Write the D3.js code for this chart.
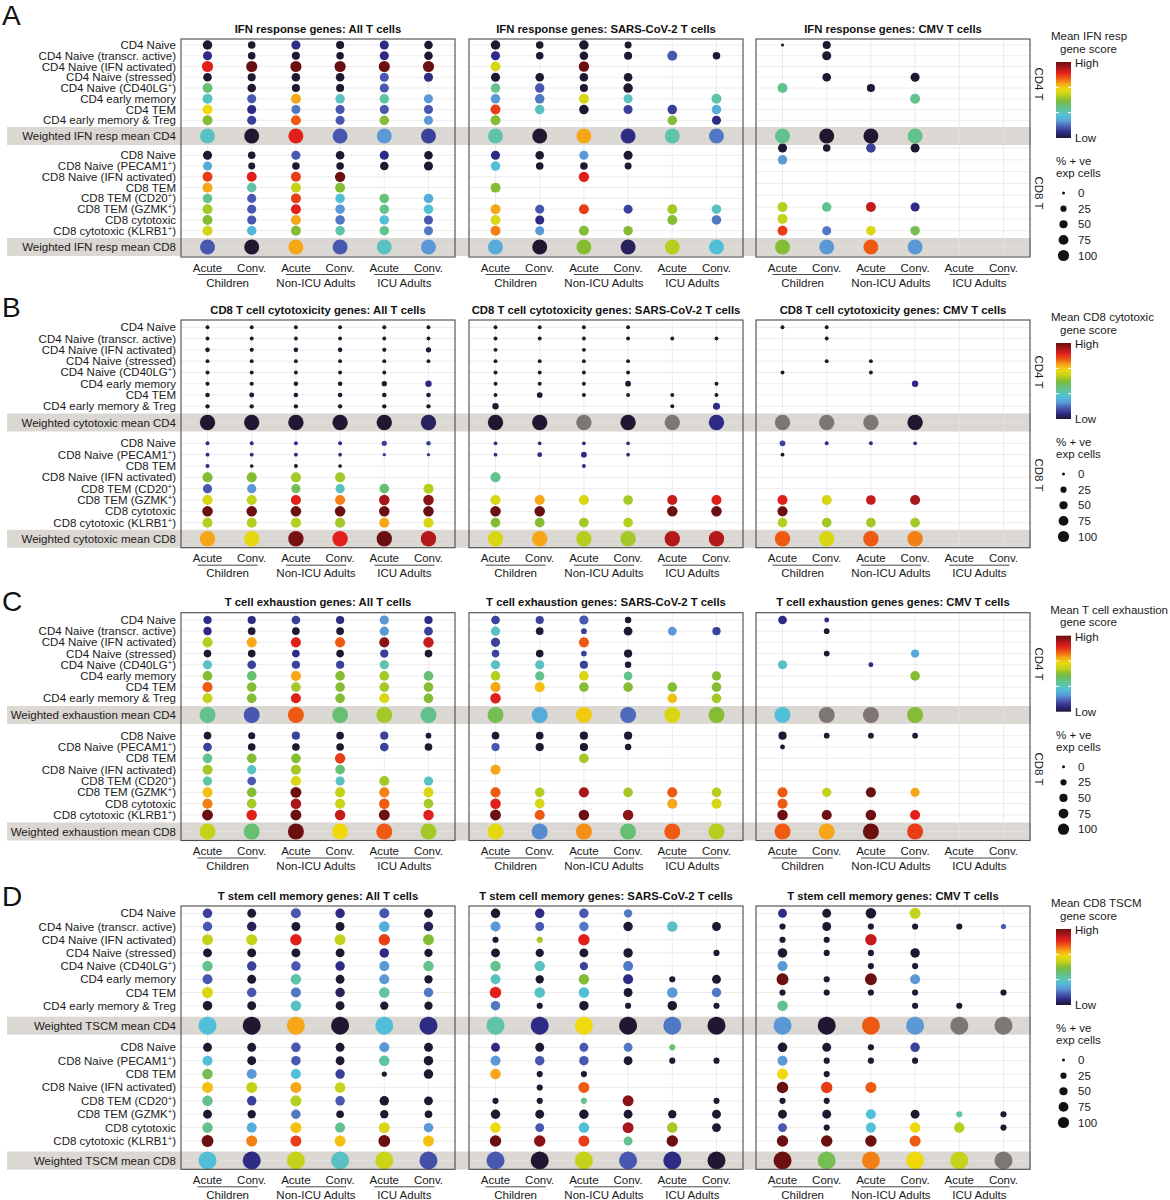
<!DOCTYPE html>
<html><head><meta charset="utf-8">
<script src="https://cdn.jsdelivr.net/npm/d3@7"></script>
<style>
body{margin:0;background:#fff;}
svg{display:block;font-family:"Liberation Sans",Arial,Helvetica,sans-serif;}
</style>
</head><body>
<svg id="chart" width="1170" height="1200"></svg>
<script>
const _ = null;
const NA = "NA";

// ---------- categories ----------
const groups = ["Children", "Non-ICU Adults", "ICU Adults"];
const phases = ["Acute", "Conv."];
const columns = groups.flatMap(g => phases.map(p => g + "|" + p));
const cd4Rows = ["CD4 Naive", "CD4 Naive (transcr. active)", "CD4 Naive (IFN activated)", "CD4 Naive (stressed)",
  "CD4 Naive (CD40LG+)", "CD4 early memory", "CD4 TEM", "CD4 early memory & Treg"];
const cd8RowsIFN = ["CD8 Naive", "CD8 Naive (PECAM1+)", "CD8 Naive (IFN activated)", "CD8 TEM",
  "CD8 TEM (CD20+)", "CD8 TEM (GZMK+)", "CD8 cytotoxic", "CD8 cytotoxic (KLRB1+)"];
const cd8RowsOther = ["CD8 Naive", "CD8 Naive (PECAM1+)", "CD8 TEM", "CD8 Naive (IFN activated)",
  "CD8 TEM (CD20+)", "CD8 TEM (GZMK+)", "CD8 cytotoxic", "CD8 cytotoxic (KLRB1+)"];
const sizeBreaks = [0, 25, 50, 75, 100];
const scoreLevels = [0,1,2,3,4,5,6,7,8,9,10,11,12,13,14]; // Low ... High
const scorePalette = ["#201830","#2d2b84","#4857b0","#5a98d6","#52bfd9","#5fc3a8","#67bf74","#84bd34",
  "#c3d31a","#efd90c","#f6a616","#ef5a13","#e2201b","#a8171a","#6c0f10"];
const naColor = "#7e7674";

// ---------- values: [score level (0 low..14 high), % +ve exp cells] ----------
// Panel A: IFN response genes
const ifnAll = [
 [[0,50],[0,30],[1,45],[0,35],[1,45],[0,40]],
 [[1,45],[0,30],[0,35],[0,30],[1,45],[0,40]],
 [[12,70],[14,70],[14,70],[14,70],[14,70],[14,70]],
 [[0,40],[0,35],[0,40],[0,40],[2,45],[1,45]],
 [[6,55],[0,40],[0,35],[0,35],[2,45],_],
 [[4.5,55],[2,45],[10,55],[4.5,50],[5,50],[3,45]],
 [[9,55],[1,45],[2.5,45],[2,45],[2,45],[2,45]],
 [[7,55],[1.5,45],[11,55],[2,45],[7,50],[3,45]],
 [[0,45],[0,30],[2,45],[0,40],[1,45],[0,40]],
 [[3.5,45],[0,25],[0,30],[0,30],[0,40],[0,45]],
 [[11.5,55],[12,55],[11.5,55],[14,60],_,_],
 [[10,55],[5,50],[8,55],[7,55],_,_],
 [[5.5,50],[2,45],[11.5,55],[4,50],[6,50],[3.5,50]],
 [[7.5,55],[2,45],[12,55],[3,50],[5.5,50],[4,50]],
 [[7,55],[2,45],[10,55],[2.5,50],[4,50],[2,45]],
 [[8.3,55],[3.8,50],[7,55],[5,50],[5.5,50],[2.5,45]]
];
const ifnAllMean = [[4.5,0,12,2,3,1.5],[2,0,10,2,4.5,3]];
const ifnSars = [
 [[0,50],[0,30],[0,50],[0,25],_,_],
 [[1,45],[0,30],[0,40],[0,35],[2,55],[0,30]],
 [[8.5,55],_,[14,60],_,_,_],
 [[0,45],[0,40],[0,40],[0,40],_,_],
 [[5.5,50],[2,50],[0,35],[0,50],_,_],
 [[3,50],[2.5,50],[8.5,55],[4.5,45],_,[5,55]],
 [[11.5,55],[4.5,50],[0,50],[1.5,45],[1.5,50],[3.5,50]],
 [[7,55],_,_,_,[7,50],[1,45]],
 [[1,45],[0,40],[3,45],[0,45],_,_],
 [[4,50],[0,30],[0,30],[0,25],_,_],
 [_,_,[12,60],_,_,_],
 [[7,55],_,_,_,_,_],
 [_,_,_,_,_,_],
 [[10,55],[2,45],[11.5,55],[1.5,45],[7.5,55],[4.5,50]],
 [[8.5,55],[1,45],_,_,[7,55],[2.5,50]],
 [[10.5,55],[3,45],[7,55],[7,50],_,_]
];
const ifnSarsMean = [[5,0,10,1,5,2.5],[3.5,0,7,0.5,7.8,4]];
const ifnCmv = [
 [[0,2],[0,35],_,_,_,_],
 [_,[0,45],_,_,_,_],
 [_,_,_,_,_,_],
 [_,[0,40],_,[0,45],_,_],
 [[5.5,55],_,[0,35],_,_,_],
 [_,_,_,[5.5,55],_,_],
 [_,_,_,_,_,_],
 [_,_,_,_,_,_],
 [[0,45],[0,30],[1.5,50],[0,45],_,_],
 [[3,50],_,_,_,_,_],
 [_,_,_,_,_,_],
 [_,_,_,_,_,_],
 [_,_,_,_,_,_],
 [[7.8,55],[5.5,50],[12.5,55],[1,45],_,_],
 [[8,55],_,_,_,_,_],
 [[11.5,55],[2.5,45],[8.5,50],[6.5,50],_,_]
];
const ifnCmvMean = [[5.5,0,0,5.5,_,_],[7,3,11,3,_,_]];

// Panel B: CD8 T cell cytotoxicity genes
const cytoAll = [
 [[0,5],[0,5],[0,5],[0,5],[0,5],[0,5]],
 [[0,5],[0,5],[0,5],[0,5],[0,5],[0,5]],
 [[0,8],[0,6],[0,8],[0,8],[0,6],[0,12]],
 [[0,5],[0,5],[0,5],[0,5],[0,5],[0,5]],
 [[0,5],[0,5],[0,5],[0,5],[0,5],_],
 [[0,6],[0,6],[0,8],[0,8],[0,12],[1,20]],
 [[0,8],[0,10],[0,8],[0,8],[0,8],[0,8]],
 [[0,7],[0,7],[0,7],[0,7],[0,7],[0,7]],
 [[1,5],[1,5],[1,5],[1,5],[1.5,12],[1.5,8]],
 [[1,5],[1,5],[1,5],[1,4],[1.5,3],[1.5,3]],
 [[1,6],[0,4],[0,5],[0,4],_,_],
 [[7,55],[7,55],[7.5,55],[7.5,55],_,_],
 [[2,45],[3,45],[6.5,45],[4.5,45],[6,50],[7.8,55]],
 [[8.5,55],[8,55],[12,55],[10.5,55],[13,60],[13.5,60]],
 [[14,60],[14,60],[14,60],[14,60],[14,60],[14,60]],
 [[7.8,55],[7.8,55],[7.8,55],[7.5,55],[10,55],[8.5,55]]
];
const cytoAllMean = [[0,0,0,0,0,0.5],[10,8.8,13.8,12,14,12.8]];
const cytoSars = [
 [[0,5],[0,5],[0,5],[0,5],_,_],
 [[0,5],[0,5],[0,5],[0,5],[0,5],[0,5]],
 [[0,5],_,[0,5],_,_,_],
 [[0,5],[0,5],[0,5],[0,5],_,_],
 [[0,5],[0,5],[0,5],[0,5],_,_],
 [[0,5],[0,5],[0,5],[0,15],_,[0,5]],
 [[0,5],[0,15],[0,5],[0,5],[0,5],[0,5]],
 [[0,20],_,_,_,[0,5],[1,25]],
 [[1,4],[1,4],[1,4],[1,4],_,_],
 [[1,4],[1,10],[1,15],[1,4],_,_],
 [_,_,[1,5],_,_,_],
 [[5.5,55],_,_,_,_,_],
 [_,_,_,_,_,_],
 [[8.5,55],[10,55],[8.5,55],[7.5,50],[12.5,55],[12,55]],
 [[14,60],[14,60],_,_,[14,60],[14,60]],
 [[7,50],[7,50],[7.5,50],[7.8,50],_,_]
];
const cytoSarsMean = [[0,0,NA,0,NA,1],[8.5,10,7.8,7.5,12.8,12.8]];
const cytoCmv = [
 [[0,5],[0,5],_,_,_,_],
 [_,[0,5],_,_,_,_],
 [_,_,_,_,_,_],
 [_,[0,5],[0,5],_,_,_],
 [[0,5],_,[0,5],_,_,_],
 [_,_,_,[1,20],_,_],
 [_,_,_,_,_,_],
 [_,_,_,_,_,_],
 [[1.5,15],[1,5],[1,5],[1,4],_,_],
 [[0,5],_,_,_,_,_],
 [_,_,_,_,_,_],
 [_,_,_,_,_,_],
 [_,_,_,_,_,_],
 [[12,55],[8.5,55],[12.5,50],[13,55],_,_],
 [[14,55],_,_,_,_,_],
 [[7.8,50],[7.5,50],[7.5,50],[7.5,50],_,_]
];
const cytoCmvMean = [[NA,NA,NA,0,_,_],[11,8.5,11,10.5,_,_]];

// Panel C: T cell exhaustion genes
const exhAll = [
 [[1,35],[1,35],[1.5,40],[1,35],[3,45],[1,35]],
 [[1,35],[0,30],[0,30],[0,30],[3,45],[1.5,40]],
 [[7.8,55],[10,55],[12,55],[11,55],[13.5,55],[12.5,60]],
 [[0,30],[0,30],[1,30],[0,30],[1.5,35],[0,30]],
 [[4.5,45],[1.5,40],[1.5,35],[1.5,35],[5,45],_],
 [[7,50],[6,50],[10,55],[7,50],[7.5,50],[6,50]],
 [[11,55],[7,50],[7.5,50],[7,50],[7.5,50],[7,50]],
 [[8,55],[7,50],[12,55],[7,50],[8.5,55],[7,50]],
 [[0,30],[0,25],[1.5,35],[0,30],[1.5,35],[0,15]],
 [[1.5,40],[0,30],[0,30],[0,30],[1.5,40],[0,30]],
 [[5.5,50],[7,50],[7,50],[11.5,60],_,_],
 [[7.5,55],[4.5,45],[7.5,55],[6,50],_,_],
 [[5,45],[2,40],[8.5,55],[4.5,45],[7.5,55],[4.5,45]],
 [[9.5,55],[7,50],[14,65],[8,55],[10.5,55],[8.5,55]],
 [[10.5,55],[7.5,50],[13,60],[8.2,55],[11,60],[7.5,50]],
 [[14,65],[12,60],[14,65],[12.5,60],[14,65],[12,60]]
];
const exhAllMean = [[5.5,2,11,6,7.5,5.5],[8,6,14,9,11,7.5]];
const exhSars = [
 [[1.5,40],[1.5,35],[2,45],[0,20],_,_],
 [[4.5,45],[0,30],[1.5,15],[0,40],[3,40],[1.5,35]],
 [[1.5,45],_,[11,55],_,_,_],
 [[1.5,30],[0,30],[1.5,15],[0,35],_,_],
 [[4.5,45],[4.5,45],[1.5,35],[0,20],_,_],
 [[7.8,50],[5.5,45],[8.5,50],[5.5,40],_,[7,45]],
 [[10,55],[9.5,55],[7,50],[7,50],[7,50],[7,50]],
 [[12,60],_,_,_,[9.5,50],[7.5,50]],
 [[0,30],[0,30],[0,35],[0,35],_,_],
 [[2,35],[0,35],[0,35],[0,20],_,_],
 [_,_,[7.5,50],_,_,_],
 [[10,55],_,_,_,_,_],
 [_,_,_,_,_,_],
 [[11,55],[7.8,50],[13,55],[7.5,50],[11,55],[7.8,50]],
 [[12,60],[8.5,50],_,_,[10,55],[8.5,55]],
 [[14,65],[11,55],[14,60],[13.5,60],_,_]
];
const exhSarsMean = [[6.5,3.5,9.3,2.3,8.5,7],[8.8,2.8,10.3,6,11,7.8]];
const exhCmv = [
 [[1,40],[1,10],_,_,_,_],
 [_,[0,15],_,_,_,_],
 [_,_,_,_,_,_],
 [_,[0,15],_,[3.5,35],_,_],
 [[4.5,45],_,[1,10],_,_,_],
 [_,_,_,[7,50],_,_],
 [_,_,_,_,_,_],
 [_,_,_,_,_,_],
 [[0,35],[0,15],[0,15],[0,15],_,_],
 [[0,10],_,_,_,_,_],
 [_,_,_,_,_,_],
 [_,_,_,_,_,_],
 [_,_,_,_,_,_],
 [[11,55],[8,45],[14,55],[10,45],_,_],
 [[11,55],_,_,_,_,_],
 [[14,60],[14,55],[14,60],[12,55],_,_]
];
const exhCmvMean = [[4,NA,NA,7,_,_],[11,10,14,11.5,_,_]];

// Panel D: T stem cell memory genes
const tscmAll = [
 [[1.5,40],[0,35],[2,45],[1,40],[2,45],[0,35]],
 [[2,40],[0.5,40],[0,35],[0,35],[3.5,50],[0.5,40]],
 [[8,55],[8,55],[12,60],[8,55],[11.5,60],[7,55]],
 [[0,35],[0,35],[0,35],[0,35],[1,40],[0,30]],
 [[5.5,50],[1.5,40],[2,40],[1,40],[3,45],[5.5,50]],
 [[2,45],[0,35],[5,50],[0,35],[3,45],[0,30]],
 [[8.5,55],[2,40],[2.5,45],[0.5,40],[5,50],[2.5,40]],
 [[0,40],[0,35],[4.5,50],[0,35],[0,30],[0,30]],
 [[0,35],[0,35],[2,40],[0,35],[3,45],[0,35]],
 [[4,45],[0,35],[2,40],[0,35],[5,50],[0,40]],
 [[6.5,50],[3,45],[4,45],[1.5,40],[0,10],[0,40]],
 [[9.5,55],[8,55],[10,55],[8,50],_,_],
 [[5.5,50],[1.5,40],[7.8,55],[2,40],[0,40],[0,35]],
 [[0,35],[0,30],[2.5,40],[0,25],[0,30],[0,25]],
 [[5.5,50],[3.5,45],[9.5,55],[5.5,45],[8.5,55],[3,40]],
 [[14,65],[10.5,55],[11.5,55],[9.5,55],[14,65],[9.5,55]]
];
const tscmAllMean = [[4,0,10,0,4,1],[4,1,8,4.5,8.2,1.8]];
const tscmSars = [
 [[0,40],[1,40],[2,40],[2.5,30],_,_],
 [[3,45],[2,35],[2.5,40],[0,40],[4.5,50],[0,35]],
 [[0,15],[7.5,15],[12,60],_,_,_],
 [[0,35],[0,30],[0,35],[0,40],_,[0,15]],
 [[5.5,50],[4.5,50],[1.5,30],[2.5,45],_,_],
 [[4.5,45],[0,30],[7,50],[1,45],[0,15],[0,35]],
 [[12,60],[4.5,50],[4,50],[0,35],[3,50],[2.5,40]],
 [[2.5,40],[0,15],[0,40],[0,15],[0,40],[0,15]],
 [[1,35],[0,35],[2,35],[2.5,35],[6,15],_],
 [[3,45],[2,40],[2,40],[0,35],[0,15],[0,15]],
 [[10,50],[0,15],[0,15],_,_,_],
 [_,[0,15],[11,55],_,_,_],
 [[0,15],[0,15],[5.5,15],[13.5,55],_,[0,15]],
 [[0,40],[0,35],[0,40],[0,35],[0,30],[0,35]],
 [[9,50],[2,35],[4,50],[13,55],[7.5,50],[0,35]],
 [[14,60],[13.5,60],[11.5,55],[5.5,35],[14,60],_]
];
const tscmSarsMean = [[5,1,9,0,2.5,0],[2,0,8,2,1,0]];
const tscmCmv = [
 [[1,35],[0,35],[0,50],[8,55],_,_],
 [[0,15],[0,35],[0,15],[0,15],[0,15],[2,10]],
 [[0,15],[0,15],[12.5,60],_,_,_],
 [[0,40],[0,15],[0,15],[0,40],_,_],
 [[3,45],_,[0,15],[0,15],_,_],
 [[14,65],[0,15],[14,65],[3,45],_,_],
 [[0,15],[0,15],[0,15],[0,15],_,[0,15]],
 [[5.5,50],_,_,[0,15],[0,15],_],
 [[0,40],[0,35],[0,15],[1.5,40],_,_],
 [[3,45],[0,15],[0,15],[0,15],_,_],
 [[9,55],[0,15],_,_,_,_],
 [[14,60],[11.5,60],[11,55],_,_,_],
 [[0,15],[0,15],_,_,_,_],
 [[0,35],[0,35],[4,45],[0,35],[5,15],[0,15]],
 [[2,35],[0,15],[4,45],[9,50],[7.8,50],[0,15]],
 [[14,60],[14,60],[14,60],[11,55],_,_]
];
const tscmCmvMean = [[3,0,11,3,NA,NA],[14,6.5,10.5,9,8,NA]];

// ---------- texts ----------
const cellSets = ["All T cells", "SARS-CoV-2 T cells", "CMV T cells"];
const panels = [
 { letter:"A", letterY:25, prefixes:["IFN response genes","IFN response genes","IFN response genes"],
   cd8Rows:cd8RowsIFN, meanLabels:["Weighted IFN resp mean CD4","Weighted IFN resp mean CD8"],
   legendTitle:["Mean IFN resp","gene score"], data:[ifnAll,ifnSars,ifnCmv], means:[ifnAllMean,ifnSarsMean,ifnCmvMean],
   geo:{top:39, bottom:257, cd4:[45,120.3], w4:136, cd8:[155.3,230.7], w8:247, cd8Alt:{2:[148,230.7]}, rMax:6.6, rW:7.5, strip:[84,193]} },
 { letter:"B", letterY:317, prefixes:["CD8 T cell cytotoxicity genes","CD8 T cell cytotoxicity genes","CD8 T cell cytotoxicity genes"],
   cd8Rows:cd8RowsOther, meanLabels:["Weighted cytotoxic mean CD4","Weighted cytotoxic mean CD8"],
   legendTitle:["Mean CD8 cytotoxic","gene score"], data:[cytoAll,cytoSars,cytoCmv], means:[cytoAllMean,cytoSarsMean,cytoCmvMean],
   geo:{top:320, bottom:547.7, cd4:[327.3,406.3], w4:422.5, cd8:[443.3,522.7], w8:538.8, cd8Alt:{}, rMax:6.7, rW:7.7, strip:[372,475]} },
 { letter:"C", letterY:611, prefixes:["T cell exhaustion genes","T cell exhaustion genes","T cell exhaustion genes genes"],
   cd8Rows:cd8RowsOther, meanLabels:["Weighted exhaustion mean CD4","Weighted exhaustion mean CD8"],
   legendTitle:["Mean T cell exhaustion","gene score"], data:[exhAll,exhSars,exhCmv], means:[exhAllMean,exhSarsMean,exhCmvMean],
   geo:{top:612.7, bottom:840.5, cd4:[620,698.3], w4:715, cd8:[735.7,815], w8:831.5, cd8Alt:{}, rMax:6.7, rW:8, strip:[664,769]} },
 { letter:"D", letterY:906, prefixes:["T stem cell memory genes","T stem cell memory genes","T stem cell memory genes"],
   cd8Rows:cd8RowsOther, meanLabels:["Weighted TSCM mean CD4","Weighted TSCM mean CD8"],
   legendTitle:["Mean CD8 TSCM","gene score"], data:[tscmAll,tscmSars,tscmCmv], means:[tscmAllMean,tscmSarsMean,tscmCmvMean],
   geo:{top:906, bottom:1169.3, cd4:[913.3,1005.7], w4:1025.7, cd8:[1047.3,1141], w8:1160.5, cd8Alt:{}, rMax:7.3, rW:9, strip:null} }
];

// ---------- layout ----------
const facetX = [[181,455],[469,743],[756,1030]];
const bandX = [7,1031];
const labelRight = 176;
const textColor = "#1a1a1a";
const fs = 11.5;

const svg = d3.select("#chart");
const color = d3.scaleLinear().domain(scoreLevels).range(scorePalette).interpolate(d3.interpolateRgb);
const fillOf = v => v === NA ? naColor : color(v);

// gradient for colorbar
const defs = svg.append("defs");
const grad = defs.append("linearGradient").attr("id","cbar").attr("x1",0).attr("y1",1).attr("x2",0).attr("y2",0);
grad.selectAll("stop").data(scoreLevels).join("stop")
  .attr("offset", d => (d / d3.max(scoreLevels) * 100) + "%")
  .attr("stop-color", d => color(d));

function addLabel(sel, text) {
  const parts = text.split("+");
  if (parts.length === 1) { sel.text(text); return; }
  sel.append("tspan").text(parts[0]);
  sel.append("tspan").attr("font-size", 7.5).attr("dy", -4).text("+");
  sel.append("tspan").attr("dy", 4).text(parts[1]);
}

panels.forEach(p => {
  const g = svg.append("g");
  const geo = p.geo;
  [geo.w4, geo.w8].forEach(yc => {
    g.append("rect").attr("x", bandX[0]).attr("width", bandX[1]-bandX[0])
      .attr("y", yc - 9).attr("height", 18).attr("fill", "#dbd7d3");
  });
  g.append("text").attr("x", 2).attr("y", p.letterY).attr("font-size", 28).attr("fill", "#111").text(p.letter);

  const size = d3.scaleRadial().domain([0,100]).range([1.3, geo.rMax]);

  facetX.forEach((fx, fi) => {
    const fg = g.append("g");
    const x = d3.scalePoint().domain(columns).range(fx).padding(0.6);
    const y4 = d3.scalePoint().domain(cd4Rows).range(geo.cd4);
    const y8 = d3.scalePoint().domain(p.cd8Rows).range(geo.cd8Alt[fi] || geo.cd8);
    const rowY = [...cd4Rows.map(r => y4(r)), ...p.cd8Rows.map(r => y8(r))];
    const allY = [...rowY, geo.w4, geo.w8];

    fg.selectAll("line.h").data(allY).join("line").attr("class","h")
      .attr("x1", fx[0]).attr("x2", fx[1]).attr("y1", d => d).attr("y2", d => d)
      .attr("stroke", "#e4e4e4").attr("stroke-width", 0.7);
    fg.selectAll("line.v").data(columns).join("line").attr("class","v")
      .attr("x1", d => x(d)).attr("x2", d => x(d)).attr("y1", geo.top).attr("y2", geo.bottom)
      .attr("stroke", "#e4e4e4").attr("stroke-width", 0.7);

    const pts = [];
    p.data[fi].forEach((row, ri) => row.forEach((cell, ci) => {
      if (cell) pts.push({ y: rowY[ri], col: columns[ci], lvl: cell[0], pct: cell[1] });
    }));
    fg.selectAll("circle.pt").data(pts).join("circle").attr("class","pt")
      .attr("cx", d => x(d.col)).attr("cy", d => d.y).attr("r", d => size(d.pct))
      .attr("fill", d => fillOf(d.lvl));
    const mpts = [];
    p.means[fi].forEach((row, k) => row.forEach((v, ci) => {
      if (v !== null) mpts.push({ y: k === 0 ? geo.w4 : geo.w8, col: columns[ci], lvl: v });
    }));
    fg.selectAll("circle.mn").data(mpts).join("circle").attr("class","mn")
      .attr("cx", d => x(d.col)).attr("cy", d => d.y).attr("r", geo.rW)
      .attr("fill", d => fillOf(d.lvl));

    fg.append("rect").attr("x", fx[0]).attr("y", geo.top).attr("width", fx[1]-fx[0]).attr("height", geo.bottom-geo.top)
      .attr("fill", "none").attr("stroke", "#4a4a4a").attr("stroke-width", 1.1);

    fg.append("text").attr("x", (fx[0]+fx[1])/2).attr("y", geo.top - 6.5).attr("text-anchor","middle")
      .attr("font-size", 11.3).attr("font-weight","bold").attr("fill", "#111")
      .text(p.prefixes[fi] + ": " + cellSets[fi]);

    fg.selectAll("text.ph").data(columns).join("text").attr("class","ph")
      .attr("x", d => x(d)).attr("y", geo.bottom + 14.5).attr("text-anchor","middle")
      .attr("font-size", fs).attr("fill", textColor).text(d => d.split("|")[1]);
    groups.forEach(gr => {
      const xa = x(gr + "|" + phases[0]), xc = x(gr + "|" + phases[1]);
      fg.append("line").attr("x1", xa - 10).attr("x2", xc + 6)
        .attr("y1", geo.bottom + 17.5).attr("y2", geo.bottom + 17.5).attr("stroke", "#333").attr("stroke-width", 0.9);
      fg.append("text").attr("x", (xa + xc)/2 - 2).attr("y", geo.bottom + 29.5).attr("text-anchor","middle")
        .attr("font-size", fs).attr("fill", textColor).text(gr);
    });

    if (fi === 0) {
      const labs = [...cd4Rows.map(r => ({t:r, y:y4(r)})), ...p.cd8Rows.map(r => ({t:r, y:y8(r)})),
        {t:p.meanLabels[0], y:geo.w4}, {t:p.meanLabels[1], y:geo.w8}];
      labs.forEach(l => {
        const t = fg.append("text").attr("x", labelRight).attr("y", l.y + 4).attr("text-anchor","end")
          .attr("font-size", fs).attr("fill", textColor);
        addLabel(t, l.t);
      });
    }
  });

  if (geo.strip) {
    ["CD4 T","CD8 T"].forEach((s, i) => {
      g.append("text").attr("transform", `translate(1035,${geo.strip[i]}) rotate(90)`)
        .attr("text-anchor","middle").attr("font-size", fs).attr("fill", textColor).text(s);
    });
  }

  // legend
  const bt = geo.top;
  const lg = g.append("g");
  const t1 = lg.append("text").attr("y", bt + 1).attr("text-anchor","middle").attr("font-size", fs)
    .attr("fill", textColor).text(p.legendTitle[0]);
  const w1 = t1.node().getComputedTextLength();
  t1.attr("x", Math.min(Math.max(1051 + w1/2, 1088.5), 1168 - w1/2));
  lg.append("text").attr("x", 1088.5).attr("y", bt + 13.5).attr("text-anchor","middle").attr("font-size", fs)
    .attr("fill", textColor).text(p.legendTitle[1]);
  const cb = {x:1056, w:15, y0: bt + 23, y1: bt + 99};
  lg.append("rect").attr("x", cb.x).attr("y", cb.y0).attr("width", cb.w).attr("height", cb.y1 - cb.y0)
    .attr("fill", "url(#cbar)");
  const cbScale = d3.scaleLinear().domain([0, 3]).range([cb.y1, cb.y0]);
  [1, 2].forEach(k => {
    [[cb.x, cb.x + 3], [cb.x + cb.w - 3, cb.x + cb.w]].forEach(([a, b]) => {
      lg.append("line").attr("x1", a).attr("x2", b).attr("y1", cbScale(k)).attr("y2", cbScale(k))
        .attr("stroke", "#fff").attr("stroke-width", 1);
    });
  });
  lg.append("text").attr("x", 1075).attr("y", cb.y0 + 5).attr("font-size", fs).attr("fill", textColor).text("High");
  lg.append("text").attr("x", 1075).attr("y", cb.y1 + 4).attr("font-size", fs).attr("fill", textColor).text("Low");
  lg.append("text").attr("x", 1056).attr("y", bt + 126).attr("font-size", fs).attr("fill", textColor).text("% + ve");
  lg.append("text").attr("x", 1056).attr("y", bt + 138).attr("font-size", fs).attr("fill", textColor).text("exp cells");
  const legSize = d3.scaleRadial().domain([0,100]).range([1.5, 5.6]);
  const keyY = d3.scalePoint().domain(sizeBreaks).range([bt + 154, bt + 216.5]);
  sizeBreaks.forEach(s => {
    lg.append("circle").attr("cx", 1063.5).attr("cy", keyY(s)).attr("r", legSize(s)).attr("fill", "#111");
    lg.append("text").attr("x", 1078).attr("y", keyY(s) + 4).attr("font-size", fs).attr("fill", textColor).text(s);
  });
});
</script>
</body></html>
